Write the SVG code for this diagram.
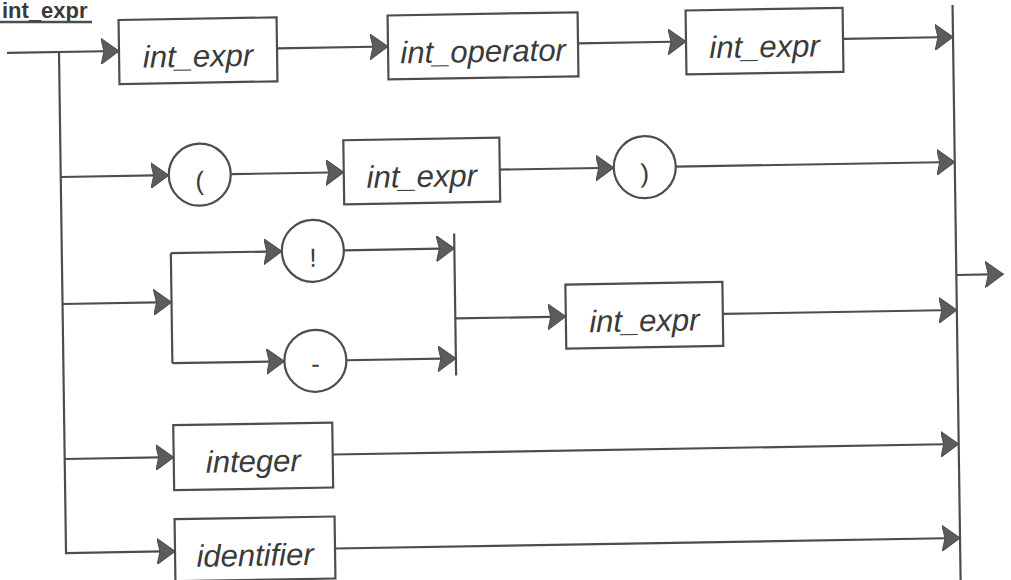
<svg xmlns="http://www.w3.org/2000/svg" width="1011" height="580" viewBox="0 0 1011 580">
  <style>
    .wire { fill: none; stroke: #4d4d4d; stroke-width: 2.2; }
    .box { fill: #ffffff; stroke: #4d4d4d; stroke-width: 2.2; }
    .lbl { font-family: "Liberation Sans", Arial, sans-serif; font-style: italic; font-size: 31px; fill: #3a3a3a; text-anchor: middle; }
    .sym { font-family: "Liberation Sans", Arial, sans-serif; font-size: 26px; fill: #3a3a3a; text-anchor: middle; }
    .title { font-family: "Liberation Sans", Arial, sans-serif; font-weight: bold; font-size: 22px; fill: #3a3a3a; }
  </style>
  <defs>
    <marker id="arrow" markerUnits="userSpaceOnUse" markerWidth="19" markerHeight="26" viewBox="0 0 19 26" refX="18" refY="13" orient="auto">
      <path d="M0,0 L18,13 L0,26 L3,13 Z" fill="#5c5c5c" stroke="#4d4d4d" stroke-width="1"/>
    </marker>
  </defs>
  <rect width="1011" height="580" fill="#ffffff"/>

  <!-- rule name, underlined -->
  <g id="title">
    <text class="title" x="2" y="18">int_expr</text>
    <line x1="0" y1="22" x2="92" y2="22" stroke="#4d4d4d" stroke-width="2.5"/>
  </g>

  <!-- whole syntax chart, slightly sheared as on the printed sheet -->
  <g transform="matrix(1 -0.0168 0.014 1 -0.728 1.008)">
    <g id="connectors">
      <!-- entry and left rail -->
      <path class="wire" d="M7,52 H119" marker-end="url(#arrow)"/>
      <path class="wire" d="M59,52 V553 H168" marker-end="url(#arrow)"/>
      <!-- right rail and exit -->
      <path class="wire" d="M953,20 V600"/>
      <path class="wire" d="M953,290 H1000" marker-end="url(#arrow)"/>

      <!-- row 1 -->
      <path class="wire" d="M277,52 H388" marker-end="url(#arrow)"/>
      <path class="wire" d="M578,52 H686" marker-end="url(#arrow)"/>
      <path class="wire" d="M843,52 H953" marker-end="url(#arrow)"/>

      <!-- row 2 -->
      <path class="wire" d="M59,177 H167" marker-end="url(#arrow)"/>
      <path class="wire" d="M229,177 H342" marker-end="url(#arrow)"/>
      <path class="wire" d="M498,177 H612" marker-end="url(#arrow)"/>
      <path class="wire" d="M674,177 H953" marker-end="url(#arrow)"/>

      <!-- row 3: unary operator choice -->
      <path class="wire" d="M59,304 H168" marker-end="url(#arrow)"/>
      <path class="wire" d="M168,255 V365"/>
      <path class="wire" d="M168,255 H279" marker-end="url(#arrow)"/>
      <path class="wire" d="M168,365 H280" marker-end="url(#arrow)"/>
      <path class="wire" d="M341,255 H451.5" marker-end="url(#arrow)"/>
      <path class="wire" d="M342,365 H451.5" marker-end="url(#arrow)"/>
      <path class="wire" d="M451.5,240 V382"/>
      <path class="wire" d="M451.5,325 H562" marker-end="url(#arrow)"/>
      <path class="wire" d="M719,325 H953" marker-end="url(#arrow)"/>

      <!-- row 4 -->
      <path class="wire" d="M59,459 H168" marker-end="url(#arrow)"/>
      <path class="wire" d="M327,459 H953" marker-end="url(#arrow)"/>

      <!-- row 5 -->
      <path class="wire" d="M328,553 H953" marker-end="url(#arrow)"/>
    </g>

    <g id="int_expr_1">
      <rect class="box" x="119" y="21" width="158" height="64"/>
      <text class="lbl" x="198" y="69">int_expr</text>
    </g>
    <g id="int_operator">
      <rect class="box" x="388" y="21" width="190" height="64"/>
      <text class="lbl" x="483" y="69">int_operator</text>
    </g>
    <g id="int_expr_2">
      <rect class="box" x="686" y="21" width="157" height="64"/>
      <text class="lbl" x="764.5" y="69">int_expr</text>
    </g>

    <g id="lparen">
      <circle class="box" cx="198" cy="177" r="31"/>
      <text class="sym" x="198" y="192">(</text>
    </g>
    <g id="int_expr_3">
      <rect class="box" x="342" y="145" width="156" height="64"/>
      <text class="lbl" x="420" y="193">int_expr</text>
    </g>
    <g id="rparen">
      <circle class="box" cx="643" cy="177" r="31"/>
      <text class="sym" x="643" y="192">)</text>
    </g>

    <g id="not">
      <circle class="box" cx="310" cy="255" r="31"/>
      <text class="sym" x="310" y="271">!</text>
    </g>
    <g id="minus">
      <circle class="box" cx="311" cy="365" r="31"/>
      <text class="sym" x="311" y="377">-</text>
    </g>
    <g id="int_expr_4">
      <rect class="box" x="562" y="293" width="157" height="64"/>
      <text class="lbl" x="640.5" y="341">int_expr</text>
    </g>

    <g id="integer">
      <rect class="box" x="168" y="427" width="159" height="65"/>
      <text class="lbl" x="247.5" y="475">integer</text>
    </g>
    <g id="identifier">
      <rect class="box" x="168" y="521" width="160" height="62"/>
      <text class="lbl" x="248" y="569">identifier</text>
    </g>
  </g>
</svg>
